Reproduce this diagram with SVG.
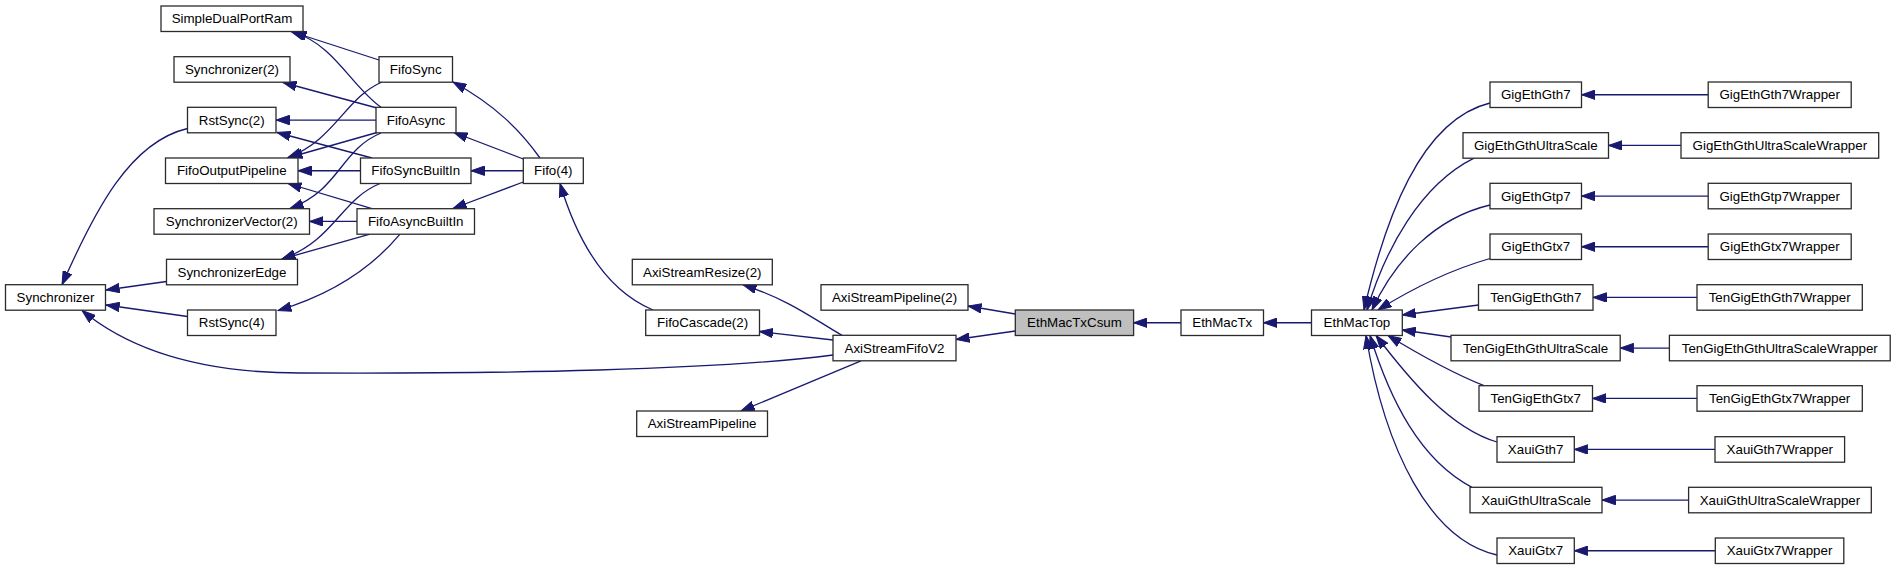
<svg xmlns="http://www.w3.org/2000/svg" width="1896" height="569" viewBox="0 0 1896 569">
<defs>
<style>
.node rect{fill:#ffffff;stroke:#2b2b2b;stroke-width:1.3}
.node.hl rect{fill:#bfbfbf}
.node text{font-family:"Liberation Sans",Arial,sans-serif;font-size:13.33px;fill:#000;text-anchor:middle}
.edges path{fill:none;stroke:#191970;stroke-width:1.3;marker-end:url(#arr)}
</style>
<marker id="arr" markerUnits="userSpaceOnUse" markerWidth="14" markerHeight="10" viewBox="0 0 14 10" refX="13.5" refY="5" orient="auto">
<path d="M0,0.3 L13.5,5 L0,9.7 z" fill="#191970" stroke="#191970" stroke-width="1"/>
</marker>
</defs>
<rect width="1896" height="569" fill="#ffffff"/>
<g class="edges" id="edges">
<path d="M379,60 L291,31.5"/>
<path d="M381,107.3 C350,85 335,45 293,32"/>
<path d="M377,108 L283,82.5"/>
<path d="M376,120.05 L276,120.05"/>
<path d="M372,158 L277,132.5"/>
<path d="M382,82 C345,98 335,140 288,157.5"/>
<path d="M377,132.5 L289,157.5"/>
<path d="M360.5,170.75 L298,170.75"/>
<path d="M372,208.7 L288,183.5"/>
<path d="M381,133 C340,150 340,190 290,208.5"/>
<path d="M357,221.45 L309.5,221.45"/>
<path d="M380,183.5 C340,200 335,240 282,259"/>
<path d="M370,234.2 L282,259"/>
<path d="M400,234.2 C370,270 330,295 278,310.5"/>
<path d="M187.5,128.5 C130,142 95,210 62,284.7"/>
<path d="M166.5,281.5 L106,290"/>
<path d="M187.5,316.5 L106,305"/>
<path d="M833,355 C720,370 500,374 300,373 C200,373 130,350 82,310.5"/>
<path d="M540,158 C520,130 495,105 453,82"/>
<path d="M523.3,159 L454,132.5"/>
<path d="M523.3,170.75 L471,170.75"/>
<path d="M523.3,182 L453,208.5"/>
<path d="M653,310 C610,292 580,250 560,183.5"/>
<path d="M842,335.3 C815,320 790,300 743,284.8"/>
<path d="M833,340 L759.5,331.5"/>
<path d="M861,360.8 L741,411"/>
<path d="M1015.3,314 L968,306"/>
<path d="M1015.3,331 L956,339.5"/>
<path d="M1181,322.75 L1133.6,322.75"/>
<path d="M1311.5,322.75 L1263.5,322.75"/>
<path d="M1490,103 C1420,120 1385,220 1364,310"/>
<path d="M1474,158.2 C1420,185 1385,250 1367,310"/>
<path d="M1490,205 C1435,218 1395,260 1372,310"/>
<path d="M1490,258.5 C1450,270 1410,290 1378,310"/>
<path d="M1478.5,305 L1402.3,315"/>
<path d="M1451,337 L1402.3,330"/>
<path d="M1484,385.7 C1450,372 1420,355 1388,335.5"/>
<path d="M1497,442 C1450,428 1410,380 1376,335.5"/>
<path d="M1472,487.3 C1420,460 1390,400 1370,335.5"/>
<path d="M1497,555 C1430,540 1385,450 1366,335.5"/>
<path d="M1708.2,94.75 L1581.5,94.75"/>
<path d="M1681,145.45 L1608.5,145.45"/>
<path d="M1708.2,196.05 L1581.5,196.05"/>
<path d="M1708.2,246.75 L1581.5,246.75"/>
<path d="M1697,297.45 L1593,297.45"/>
<path d="M1669.4,348.05 L1620.2,348.05"/>
<path d="M1697,398.45 L1592.5,398.45"/>
<path d="M1715,449.45 L1574.3,449.45"/>
<path d="M1688.6,500.05 L1602,500.05"/>
<path d="M1715.3,550.75 L1574.3,550.75"/>
</g>
<g class="node" id="n_Synchronizer"><rect x="5.5" y="284.7" width="100" height="25.5"/><text x="55.5" y="302.05">Synchronizer</text></g>
<g class="node" id="n_SimpleDualPortRam"><rect x="161" y="6" width="142" height="25.5"/><text x="232" y="23.35">SimpleDualPortRam</text></g>
<g class="node" id="n_Synchronizer2"><rect x="174" y="56.7" width="116" height="25.5"/><text x="232" y="74.05">Synchronizer(2)</text></g>
<g class="node" id="n_RstSync2"><rect x="187.5" y="107.3" width="88.5" height="25.5"/><text x="231.75" y="124.65">RstSync(2)</text></g>
<g class="node" id="n_FifoOutputPipeline"><rect x="165.5" y="158" width="132.5" height="25.5"/><text x="231.75" y="175.35">FifoOutputPipeline</text></g>
<g class="node" id="n_SynchronizerVector2"><rect x="154" y="208.7" width="155.5" height="25.5"/><text x="231.75" y="226.05">SynchronizerVector(2)</text></g>
<g class="node" id="n_SynchronizerEdge"><rect x="166.5" y="259.3" width="131" height="25.5"/><text x="232" y="276.65">SynchronizerEdge</text></g>
<g class="node" id="n_RstSync4"><rect x="187.5" y="310" width="88.5" height="25.5"/><text x="231.75" y="327.35">RstSync(4)</text></g>
<g class="node" id="n_FifoSync"><rect x="379" y="56.7" width="73.5" height="25.5"/><text x="415.75" y="74.05">FifoSync</text></g>
<g class="node" id="n_FifoAsync"><rect x="376" y="107.3" width="80" height="25.5"/><text x="416" y="124.65">FifoAsync</text></g>
<g class="node" id="n_FifoSyncBuiltIn"><rect x="360.5" y="158" width="110.5" height="25.5"/><text x="415.75" y="175.35">FifoSyncBuiltIn</text></g>
<g class="node" id="n_FifoAsyncBuiltIn"><rect x="357" y="208.7" width="117.5" height="25.5"/><text x="415.75" y="226.05">FifoAsyncBuiltIn</text></g>
<g class="node" id="n_Fifo4"><rect x="523.3" y="158" width="60" height="25.5"/><text x="553.3" y="175.35">Fifo(4)</text></g>
<g class="node" id="n_AxiStreamResize2"><rect x="632.3" y="259.3" width="140" height="25.5"/><text x="702.3" y="276.65">AxiStreamResize(2)</text></g>
<g class="node" id="n_FifoCascade2"><rect x="645.7" y="310" width="113.8" height="25.5"/><text x="702.6" y="327.35">FifoCascade(2)</text></g>
<g class="node" id="n_AxiStreamPipeline"><rect x="636.7" y="411" width="130.8" height="25.5"/><text x="702.1" y="428.35">AxiStreamPipeline</text></g>
<g class="node" id="n_AxiStreamPipeline2"><rect x="821" y="284.7" width="147" height="25.5"/><text x="894.5" y="302.05">AxiStreamPipeline(2)</text></g>
<g class="node" id="n_AxiStreamFifoV2"><rect x="833" y="335.3" width="123" height="25.5"/><text x="894.5" y="352.65">AxiStreamFifoV2</text></g>
<g class="node hl" id="n_EthMacTxCsum"><rect x="1015.3" y="310" width="118.3" height="25.5"/><text x="1074.45" y="327.35">EthMacTxCsum</text></g>
<g class="node" id="n_EthMacTx"><rect x="1181" y="310" width="82.5" height="25.5"/><text x="1222.25" y="327.35">EthMacTx</text></g>
<g class="node" id="n_EthMacTop"><rect x="1311.5" y="310" width="90.8" height="25.5"/><text x="1356.9" y="327.35">EthMacTop</text></g>
<g class="node" id="n_GigEthGth7"><rect x="1490" y="82" width="91.5" height="25.5"/><text x="1535.75" y="99.35">GigEthGth7</text></g>
<g class="node" id="n_GigEthGthUltraScale"><rect x="1463" y="132.7" width="145.5" height="25.5"/><text x="1535.75" y="150.05">GigEthGthUltraScale</text></g>
<g class="node" id="n_GigEthGtp7"><rect x="1490" y="183.3" width="91.5" height="25.5"/><text x="1535.75" y="200.65">GigEthGtp7</text></g>
<g class="node" id="n_GigEthGtx7"><rect x="1490" y="234" width="91.5" height="25.5"/><text x="1535.75" y="251.35">GigEthGtx7</text></g>
<g class="node" id="n_TenGigEthGth7"><rect x="1478.5" y="284.7" width="114.5" height="25.5"/><text x="1535.75" y="302.05">TenGigEthGth7</text></g>
<g class="node" id="n_TenGigEthGthUltraScale"><rect x="1451" y="335.3" width="169.2" height="25.5"/><text x="1535.6" y="352.65">TenGigEthGthUltraScale</text></g>
<g class="node" id="n_TenGigEthGtx7"><rect x="1479" y="385.7" width="113.5" height="25.5"/><text x="1535.75" y="403.05">TenGigEthGtx7</text></g>
<g class="node" id="n_XauiGth7"><rect x="1497" y="436.7" width="77.3" height="25.5"/><text x="1535.65" y="454.05">XauiGth7</text></g>
<g class="node" id="n_XauiGthUltraScale"><rect x="1470" y="487.3" width="132" height="25.5"/><text x="1536" y="504.65">XauiGthUltraScale</text></g>
<g class="node" id="n_XauiGtx7"><rect x="1497" y="538" width="77.3" height="25.5"/><text x="1535.65" y="555.35">XauiGtx7</text></g>
<g class="node" id="n_GigEthGth7Wrapper"><rect x="1708.2" y="82" width="143" height="25.5"/><text x="1779.7" y="99.35">GigEthGth7Wrapper</text></g>
<g class="node" id="n_GigEthGthUltraScaleWrapper"><rect x="1681" y="132.7" width="197.7" height="25.5"/><text x="1779.85" y="150.05">GigEthGthUltraScaleWrapper</text></g>
<g class="node" id="n_GigEthGtp7Wrapper"><rect x="1708.2" y="183.3" width="143" height="25.5"/><text x="1779.7" y="200.65">GigEthGtp7Wrapper</text></g>
<g class="node" id="n_GigEthGtx7Wrapper"><rect x="1708.2" y="234" width="143" height="25.5"/><text x="1779.7" y="251.35">GigEthGtx7Wrapper</text></g>
<g class="node" id="n_TenGigEthGth7Wrapper"><rect x="1697" y="284.7" width="165.3" height="25.5"/><text x="1779.65" y="302.05">TenGigEthGth7Wrapper</text></g>
<g class="node" id="n_TenGigEthGthUltraScaleWrapper"><rect x="1669.4" y="335.3" width="220.8" height="25.5"/><text x="1779.8" y="352.65">TenGigEthGthUltraScaleWrapper</text></g>
<g class="node" id="n_TenGigEthGtx7Wrapper"><rect x="1697" y="385.7" width="165.3" height="25.5"/><text x="1779.65" y="403.05">TenGigEthGtx7Wrapper</text></g>
<g class="node" id="n_XauiGth7Wrapper"><rect x="1715" y="436.7" width="129.6" height="25.5"/><text x="1779.8" y="454.05">XauiGth7Wrapper</text></g>
<g class="node" id="n_XauiGthUltraScaleWrapper"><rect x="1688.6" y="487.3" width="182.7" height="25.5"/><text x="1779.95" y="504.65">XauiGthUltraScaleWrapper</text></g>
<g class="node" id="n_XauiGtx7Wrapper"><rect x="1715.3" y="538" width="128.5" height="25.5"/><text x="1779.55" y="555.35">XauiGtx7Wrapper</text></g>
</svg>
